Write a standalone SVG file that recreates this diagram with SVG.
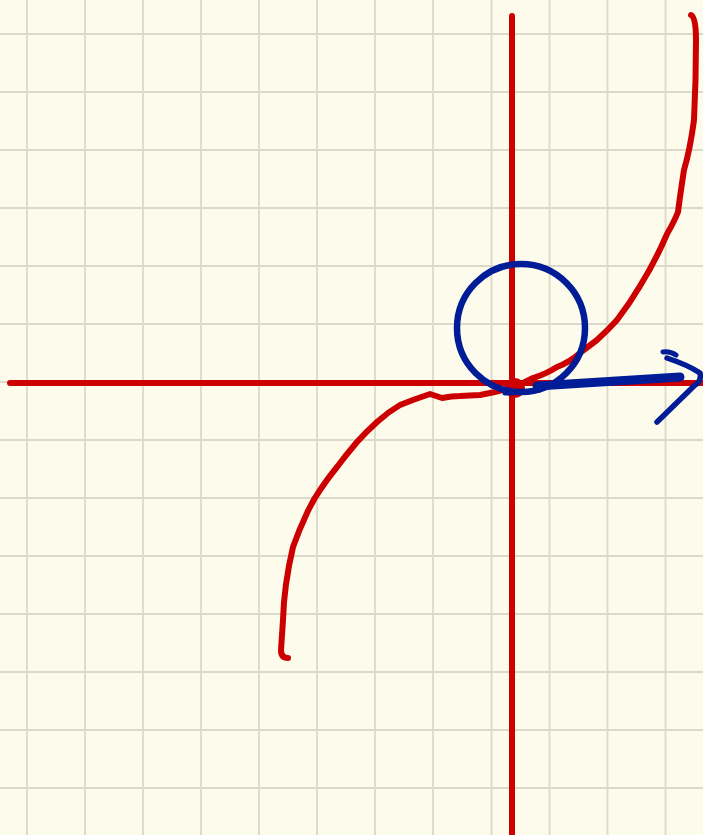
<svg xmlns="http://www.w3.org/2000/svg" width="703" height="835" viewBox="0 0 703 835">
<style>
.grid{stroke:#dcd9ca;stroke-width:1.8;fill:none}
.red{stroke:#cc0000;fill:none;stroke-linecap:round;stroke-linejoin:round}
.blue{stroke:#001c96;fill:none;stroke-linecap:round;stroke-linejoin:round}
</style>
<rect width="703" height="835" fill="#fdfbec"/>
<g id="grid" class="grid">
<path d="M27 0V835M85 0V835M143 0V835M201 0V835M259 0V835M317 0V835M375 0V835M433 0V835M491.5 0V835M549.5 0V835M607.5 0V835M665.5 0V835"/>
<path d="M0 34H703M0 92H703M0 150H703M0 208H703M0 266H703M0 324H703M0 382H703M0 440H703M0 498H703M0 556H703M0 614H703M0 672H703M0 730H703M0 788H703"/>
</g>
<g id="axes" class="red" stroke-width="6">
<path d="M512 16V835"/>
<path d="M10 383H703"/>
</g>
<g id="curve" class="red" stroke-width="6">
<path d="M288 658 Q281 658 281 650 L283 620 Q284 585 293 547 Q299 530 307 513 Q313 500 320 490 Q328 478 337 467 Q346 455 357 442 Q366 432 377 422 Q388 412 400 405 Q415 399 430 394 Q436 396 442 398 Q452 396 460 396 L480 395 Q497 392 517 386 L533 378 Q546 374 557 367 Q570 362 580 353 Q589 346 597 340 Q608 330 617 320 Q630 303 640 286 Q655 262 667 234 Q674 222 678 212 Q680 196 684 170 Q690 150 694 120 Q696 80 696 40 Q696 17 691 15"/>
</g>
<g id="origin" fill="#cc0000">
<circle cx="515" cy="388" r="10"/>
</g>
<g id="circle" class="blue">
<circle cx="521" cy="328" r="64" stroke-width="6.5"/>
</g>
<g id="arrow" class="blue">
<path d="M505 393 Q520 393 540 390" stroke-width="5"/>
<path d="M537 386 Q600 382 680 377" stroke-width="9"/>
<path d="M663 352 Q670 351 676 355" stroke-width="5"/>
<path d="M667 358 Q688 365 700 373 Q702 381 694 386 L657 422" stroke-width="5.5"/>
</g>
</svg>
